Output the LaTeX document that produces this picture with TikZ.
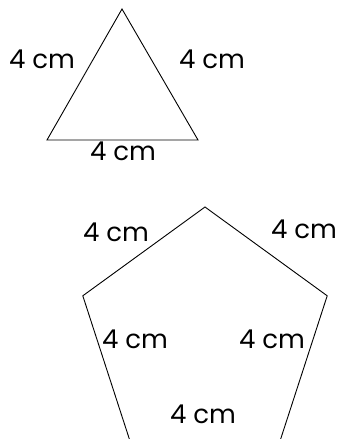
\documentclass[tikz,border=0pt]{standalone}
\usepackage{fontspec}
\setmainfont{Poppins}
\usepackage{tikz}
\usetikzlibrary{positioning, calc}

\begin{document}
\begin{tikzpicture}[
    x=1pt, y=-1pt,
    side/.style={draw, line width=0.9pt, line join=miter},
    lengthlabel/.style={font=\fontsize{26}{28}\selectfont, inner sep=0pt}
]
    \useasboundingbox (0,0) rectangle (337,439);
    % Triangle
    \coordinate (ta) at (122,9);
    \coordinate (tl) at (47,140);
    \coordinate (tr) at (198,140);
    \draw[side] (ta) -- (tr) -- (tl) -- cycle;
    \node[lengthlabel] (tleft) at (42,59) {4 cm};
    \node[lengthlabel] (tright) at (212,59) {4 cm};
    \node[lengthlabel] (tbase) at (123,151) {4 cm};
    % Pentagon
    \coordinate (pt) at (205,207);
    \coordinate (pl) at (82.8,295.8);
    \coordinate (pr) at (327.2,295.8);
    \coordinate (pbl) at (129.5,439.5);
    \coordinate (pbr) at (280.5,439.5);
    \draw[side] (pbl) -- (pl) -- (pt) -- (pr) -- (pbr);
    \node[lengthlabel] (pupleft) at (116,232) {4 cm};
    \node[lengthlabel] (pupright) at (304,229) {4 cm};
    \node[lengthlabel] (plowleft) at (135,339) {4 cm};
    \node[lengthlabel] (plowright) at (272,339) {4 cm};
    \node[lengthlabel] (pbase) at (203,414) {4 cm};
\end{tikzpicture}
\end{document}
